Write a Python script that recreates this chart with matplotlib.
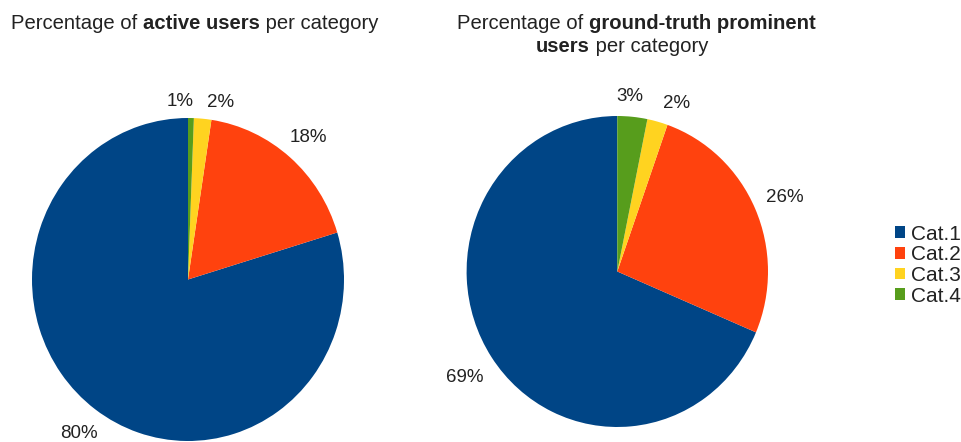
import numpy as np
import matplotlib
matplotlib.use("Agg")
import matplotlib.pyplot as plt
from matplotlib.patches import Patch

plt.rcParams['font.family'] = ['Liberation Sans', 'DejaVu Sans']

CATEGORIES = ['Cat.1', 'Cat.2', 'Cat.3', 'Cat.4']
COLORS = ['#004586', '#ff420e', '#ffd320', '#579d1c']

ACTIVE_PCT = [79.7, 17.9, 1.8, 0.6]
PROMINENT_PCT = [68.6, 26.0, 2.2, 3.2]

TEXT_COLOR = '#222222'
FS = 13.5
TITLE_FS = 14.6
LEGEND_FS = 15


def draw_pie(fig, ax, values, gap, nudges):
	wedges, _ = ax.pie(values, colors=COLORS, startangle=90, radius=1,
		wedgeprops=dict(linewidth=0))
	ax.set_aspect('auto')
	ax.set_xlim(-1, 1)
	ax.set_ylim(-1, 1)
	r = fig.canvas.get_renderer()
	abox = ax.get_window_extent(r)
	for w, v, nd in zip(wedges, values, nudges):
		ang = np.deg2rad((w.theta1 + w.theta2) / 2 + nd)
		ux, uy = np.cos(ang), np.sin(ang)
		t = ax.text(0, 0, '%.0f%%' % v, ha='center', va='center_baseline',
			fontsize=FS, color=TEXT_COLOR)
		bb = t.get_window_extent(r)
		# half box size in axes units, pushed out so the box edge sits at 1+gap
		hw = bb.width / abox.width
		hh = bb.height / abox.height
		d = 1 + gap + abs(ux) * hw + abs(uy) * hh
		t.set_position((d * ux, d * uy))


def rich_line(fig, pieces, xc, y):
	# pieces: list of (text, weight); line centred on xc (figure px), baseline y
	r = fig.canvas.get_renderer()
	texts = []
	total = 0
	for s, wt in pieces:
		t = fig.text(0, 0, s, fontsize=TITLE_FS, fontweight=wt, color=TEXT_COLOR,
			va='baseline', ha='left', transform=None)
		bb = t.get_window_extent(r)
		texts.append((t, bb.width))
		total += bb.width
	x = xc - total / 2
	H = fig.get_figheight() * fig.dpi
	for t, wd in texts:
		t.set_position((x, H - y))
		x += wd


fig = plt.figure(figsize=(9.62, 4.42), dpi=100)

ax1 = fig.add_axes([32 / 962, 1 - 441 / 442, 312 / 962, 323 / 442])
draw_pie(fig, ax1, ACTIVE_PCT, 0.06, [0, 0, -5.4, 3.6])

ax2 = fig.add_axes([466.6 / 962, 1 - 427 / 442, 301.4 / 962, 311 / 442])
draw_pie(fig, ax2, PROMINENT_PCT, 0.08, [0, 0, -4.4, 1.7])

rich_line(fig, [('Percentage of ', 'normal'), ('active users', 'bold'),
	(' per category', 'normal')], 194.5, 29)
rich_line(fig, [('Percentage of ', 'normal'), ('ground-truth prominent', 'bold')], 636, 29)
rich_line(fig, [('users', 'bold'), (' per category', 'normal')], 622, 52)

handles = [Patch(facecolor=c, edgecolor='none') for c in COLORS]
fig.legend(handles, CATEGORIES, loc='center left', bbox_to_anchor=(895 / 962, 1 - 265 / 442),
	frameon=False, fontsize=LEGEND_FS, handlelength=0.5, handleheight=0.5,
	handletextpad=0.25, labelspacing=0.08, borderpad=0, borderaxespad=0,
	labelcolor=TEXT_COLOR)

fig.savefig('out.png', dpi=100)
